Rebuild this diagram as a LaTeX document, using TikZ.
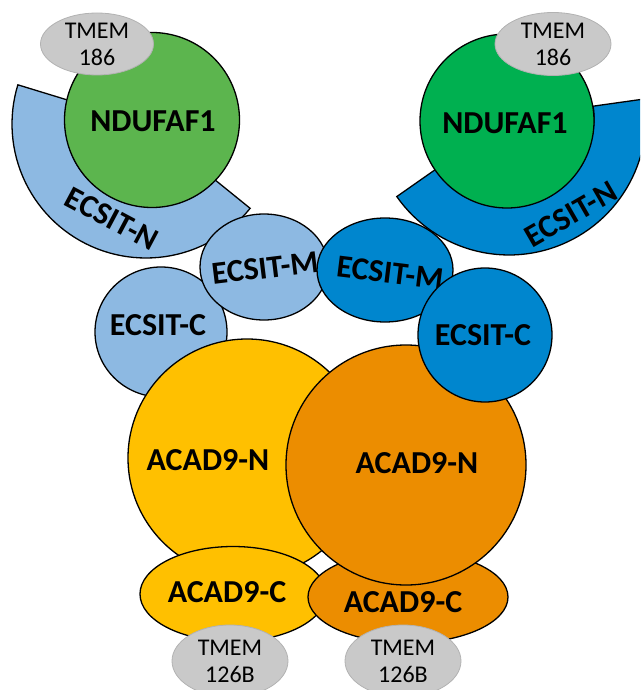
\documentclass[tikz,border=0pt]{standalone}
\usepackage{fontspec}
\setmainfont{Carlito}
\usepackage{tikz}
\usetikzlibrary{shapes.geometric}
\definecolor{ndufl}{HTML}{5CB54E}
\definecolor{ndufr}{HTML}{00B050}
\definecolor{ecsl}{HTML}{8DB9E2}
\definecolor{ecsr}{HTML}{0086CE}
\definecolor{acadl}{HTML}{FFC000}
\definecolor{acadr}{HTML}{EC8D00}
\definecolor{tmemgray}{HTML}{C9C9C9}

\begin{document}
\begin{tikzpicture}[x=1pt, y=-1pt,
	part/.style={ellipse, draw=black, line width=1.3pt, inner sep=0pt},
	tmembox/.style={ellipse, draw=gray!60, line width=0.8pt, fill=tmemgray, inner sep=0pt, align=center, font=\fontsize{24}{27}\selectfont},
	lbl/.style={font=\fontsize{32}{34}\selectfont\bfseries}]
	\useasboundingbox (0,0) rectangle (640,690);
	\clip (0,0) rectangle (640,690);

	% ECSIT-N arcs
	\draw[line width=1.3pt, fill=ecsl] plot[domain=197:39, samples=60] ({146+134*cos(\x)},{124+134*sin(\x)}) -- plot[domain=39:197, samples=60] ({146+80*cos(\x)},{124+80*sin(\x)}) -- cycle;
	\draw[line width=1.3pt, fill=ecsr] plot[domain=145:-8, samples=60] ({509+137*cos(\x)},{118+137*sin(\x)}) -- plot[domain=-8:145, samples=60] ({509+85*cos(\x)},{118+85*sin(\x)}) -- cycle;
	\node[lbl, rotate=-28] at (112,219) (ecsnl) {ECSIT-N};
	\node[lbl, rotate=30] at (571,214) (ecsnr) {ECSIT-N};

	% NDUFAF1 + TMEM186
	\node[part, fill=ndufl, minimum width=175pt, minimum height=175pt] at (152,120) (ndl) {};
	\node[lbl] at (153,121) (ndl-t) {NDUFAF1};
	\node[part, fill=ndufr, minimum width=174pt, minimum height=174pt] at (507,121) (ndr) {};
	\node[lbl] at (505,123) (ndr-t) {NDUFAF1};
	\node[tmembox, minimum width=113pt, minimum height=62pt] at (97,44) (t186l) {TMEM\\186};
	\node[tmembox, minimum width=116pt, minimum height=63pt] at (553,44) (t186r) {TMEM\\186};

	% ECSIT-C / ECSIT-M
	\node[part, fill=ecsl, minimum width=132pt, minimum height=130pt] at (161,332) (ecl) {};
	\node[lbl] at (158,325) (ecl-t) {ECSIT-C};
	\node[part, fill=ecsl, minimum width=128pt, minimum height=106pt] at (264,267) (eml) {};
	\node[lbl, rotate=7] at (265,268) (eml-t) {ECSIT-M};
	\node[part, fill=ecsr, minimum width=136pt, minimum height=104pt] at (385,270) (emr) {};
	\node[lbl, rotate=-7] at (390,273) (emr-t) {ECSIT-M};

	% ACAD9
	\node[part, fill=acadl, minimum width=238pt, minimum height=238pt] at (247,458) (anl) {};
	\node[lbl] at (208,460) (anl-t) {ACAD9-N};
	\node[part, fill=acadl, minimum width=186pt, minimum height=95pt] at (233,594) (acl) {};
	\node[lbl] at (227,592) (acl-t) {ACAD9-C};
	\node[part, fill=acadr, minimum width=200pt, minimum height=92pt] at (408,597) (acr) {};
	\node[lbl] at (403,602) (acr-t) {ACAD9-C};
	\node[part, fill=acadr, minimum width=240pt, minimum height=240pt] at (406,465) (anr) {};
	\node[lbl] at (417,463) (anr-t) {ACAD9-N};
	\node[part, fill=ecsr, minimum width=134pt, minimum height=134pt] at (485,335) (ecr) {};
	\node[lbl] at (483,335) (ecr-t) {ECSIT-C};

	% TMEM126B
	\node[tmembox, minimum width=116pt, minimum height=72pt] at (230,661) (t126l) {TMEM\\126B};
	\node[tmembox, minimum width=116pt, minimum height=72pt] at (403,661) (t126r) {TMEM\\126B};
\end{tikzpicture}
\end{document}
